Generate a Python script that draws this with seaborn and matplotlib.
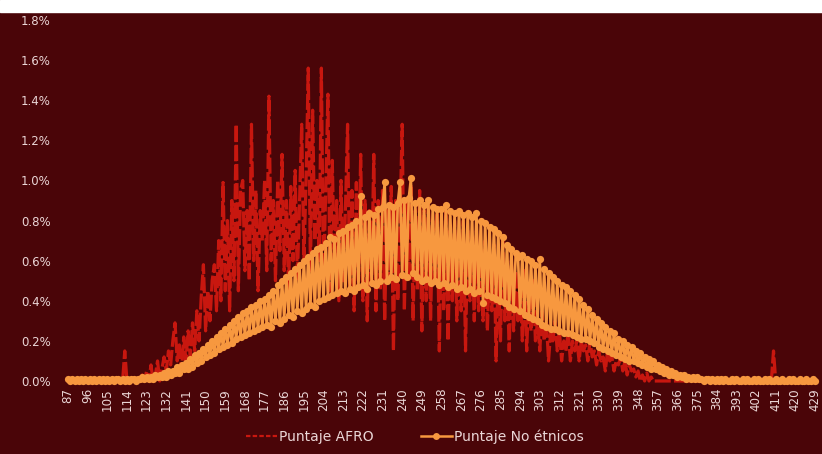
import matplotlib
matplotlib.use("Agg")
import matplotlib.pyplot as plt
from matplotlib.patches import Rectangle
from matplotlib.lines import Line2D
from matplotlib.ticker import FuncFormatter
import seaborn as sns
import pandas as pd

# Scores 87..429 (one category per integer score)
puntajes = list(range(87, 430))
tick_labels = list(range(87, 430, 9))

# Percent of students per score, Puntaje AFRO (values in %)
afro_pct = [
    0, 0, 0, 0, 0, 0, 0, 0, 0,                                   # 87-95
    0, 0, 0, 0, 0, 0, 0, 0, 0,                                   # 96-104
    0, 0, 0, 0, 0, 0, 0, 0, 0.15,                                # 105-113
    0, 0, 0, 0, 0, 0, 0, 0.03, 0,                                # 114-122
    0.05, 0, 0.08, 0, 0.03, 0.1, 0, 0.06, 0.12,                  # 123-131
    0.05, 0.15, 0.08, 0.2, 0.29, 0.1, 0.18, 0.05, 0.22,          # 132-140
    0.1, 0.25, 0.12, 0.29, 0.15, 0.35, 0.2, 0.42, 0.58,          # 141-149
    0.25, 0.45, 0.3, 0.5, 0.58, 0.35, 0.7, 0.4, 0.99,            # 150-158
    0.45, 0.8, 0.35, 0.9, 0.5, 1.28, 0.45, 0.95, 1.0,            # 159-167
    0.55, 0.85, 0.5, 1.28, 0.6, 0.95, 0.45, 0.85, 0.7,           # 168-176
    1.0, 0.55, 1.42, 0.6, 0.9, 0.5, 1.0, 0.65, 1.13,             # 177-185
    0.55, 0.9, 0.45, 0.97, 0.6, 1.05, 0.5, 0.9, 1.28,            # 186-194
    0.6, 1.0, 1.56, 0.55, 1.35, 0.7, 1.0, 0.6, 1.56,             # 195-203
    0.5, 0.95, 1.43, 0.45, 1.1, 0.55, 0.9, 0.4, 1.0,             # 204-212
    0.5, 0.85, 1.28, 0.45, 0.95, 0.35, 0.99, 0.5, 1.13,          # 213-221
    0.4, 0.9, 0.3, 0.85, 0.5, 1.13, 0.35, 0.9, 0.45,             # 222-230
    0.95, 0.3, 0.85, 0.5, 0.97, 0.15, 0.9, 0.4, 0.8,             # 231-239
    1.28, 0.35, 0.9, 0.5, 0.98, 0.3, 0.85, 0.45, 0.95,           # 240-248
    0.25, 0.85, 0.4, 0.9, 0.3, 0.8, 0.5, 0.85, 0.15,             # 249-257
    0.8, 0.35, 0.85, 0.2, 0.75, 0.4, 0.8, 0.3, 0.7,              # 258-266
    0.35, 0.8, 0.15, 0.75, 0.4, 0.7, 0.3, 0.75, 0.35,            # 267-275
    0.65, 0.3, 0.7, 0.25, 0.6, 0.35, 0.68, 0.1, 0.55,            # 276-284
    0.2, 0.7, 0.3, 0.55, 0.15, 0.6, 0.25, 0.55, 0.3,             # 285-293
    0.5, 0.2, 0.55, 0.15, 0.45, 0.25, 0.5, 0.2, 0.3,             # 294-302
    0.15, 0.35, 0.2, 0.3, 0.1, 0.25, 0.2, 0.3, 0.15,             # 303-311
    0.25, 0.1, 0.2, 0.15, 0.25, 0.1, 0.2, 0.15, 0.2,             # 312-320
    0.1, 0.2, 0.15, 0.18, 0.1, 0.2, 0.12, 0.15, 0.08,            # 321-329
    0.15, 0.1, 0.12, 0.05, 0.15, 0.1, 0.12, 0.05, 0.1,           # 330-338
    0.08, 0.12, 0.05, 0.1, 0.03, 0.08, 0.05, 0.06, 0.02,         # 339-347
    0.05, 0, 0.03, 0, 0.04, 0, 0.02, 0, 0,                       # 348-356
    0, 0, 0, 0, 0, 0, 0, 0, 0,                                   # 357-365
    0, 0, 0, 0, 0, 0, 0, 0, 0,                                   # 366-374
    0, 0, 0, 0, 0, 0, 0, 0, 0,                                   # 375-383
    0, 0, 0, 0, 0, 0, 0, 0, 0,                                   # 384-392
    0, 0, 0, 0, 0, 0, 0, 0, 0,                                   # 393-401
    0, 0, 0, 0, 0, 0, 0, 0, 0.15,                                # 402-410
    0, 0, 0, 0, 0, 0, 0, 0, 0,                                   # 411-419
    0, 0, 0, 0, 0, 0, 0, 0, 0,                                   # 420-428
    0,                                                           # 429
]

# Percent of students per score, Puntaje No étnicos (values in %)
no_etnicos_pct = [
    0.01, 0.0, 0.01, 0.0, 0.01, 0.0, 0.01, 0.0, 0.01,            # 87-95
    0.0, 0.01, 0.0, 0.01, 0.0, 0.01, 0.0, 0.01, 0.0,             # 96-104
    0.01, 0.0, 0.01, 0.0, 0.01, 0.01, 0.0, 0.01, 0.0,            # 105-113
    0.01, 0.0, 0.01, 0.01, 0.0, 0.01, 0.01, 0.02, 0.01,          # 114-122
    0.02, 0.01, 0.02, 0.01, 0.03, 0.02, 0.03, 0.02, 0.04,        # 123-131
    0.02, 0.05, 0.03, 0.05, 0.04, 0.07, 0.04, 0.08, 0.06,        # 132-140
    0.09, 0.06, 0.11, 0.07, 0.13, 0.09, 0.14, 0.1, 0.16,         # 141-149
    0.12, 0.18, 0.13, 0.2, 0.14, 0.22, 0.16, 0.24, 0.17,         # 150-158
    0.26, 0.18, 0.28, 0.19, 0.3, 0.21, 0.32, 0.22, 0.34,         # 159-167
    0.23, 0.35, 0.24, 0.37, 0.25, 0.38, 0.26, 0.4, 0.27,         # 168-176
    0.41, 0.28, 0.43, 0.27, 0.45, 0.3, 0.48, 0.29, 0.5,          # 177-185
    0.31, 0.52, 0.33, 0.54, 0.32, 0.56, 0.35, 0.58, 0.34,        # 186-194
    0.6, 0.36, 0.62, 0.38, 0.64, 0.37, 0.66, 0.4, 0.67,          # 195-203
    0.41, 0.69, 0.42, 0.72, 0.43, 0.71, 0.44, 0.74, 0.45,        # 204-212
    0.75, 0.44, 0.77, 0.46, 0.78, 0.45, 0.8, 0.47, 0.92,         # 213-221
    0.48, 0.82, 0.46, 0.84, 0.49, 0.83, 0.48, 0.86, 0.5,         # 222-230
    0.87, 0.99, 0.5, 0.88, 0.52, 0.87, 0.51, 0.89, 0.99,         # 231-239
    0.53, 0.9, 0.52, 0.91, 1.01, 0.54, 0.89, 0.52, 0.9,          # 240-248
    0.5, 0.88, 0.51, 0.9, 0.49, 0.87, 0.5, 0.86, 0.48,           # 249-257
    0.86, 0.49, 0.88, 0.47, 0.85, 0.48, 0.84, 0.46, 0.85,        # 258-266
    0.47, 0.83, 0.45, 0.84, 0.46, 0.82, 0.44, 0.84, 0.45,        # 267-275
    0.8, 0.39, 0.79, 0.43, 0.77, 0.42, 0.76, 0.41, 0.74,         # 276-284
    0.4, 0.72, 0.39, 0.68, 0.37, 0.66, 0.36, 0.64, 0.62,         # 285-293
    0.35, 0.63, 0.33, 0.61, 0.32, 0.6, 0.31, 0.58, 0.3,          # 294-302
    0.61, 0.28, 0.56, 0.27, 0.54, 0.26, 0.52, 0.26, 0.5,         # 303-311
    0.25, 0.48, 0.24, 0.47, 0.24, 0.45, 0.23, 0.43, 0.22,        # 312-320
    0.41, 0.21, 0.38, 0.21, 0.36, 0.2, 0.33, 0.19, 0.31,         # 321-329
    0.17, 0.29, 0.16, 0.27, 0.15, 0.25, 0.14, 0.24, 0.13,        # 330-338
    0.21, 0.12, 0.2, 0.11, 0.18, 0.1, 0.17, 0.1, 0.15,           # 339-347
    0.09, 0.14, 0.08, 0.12, 0.07, 0.11, 0.06, 0.1, 0.06,         # 348-356
    0.08, 0.05, 0.07, 0.04, 0.06, 0.03, 0.05, 0.03, 0.04,        # 357-365
    0.02, 0.03, 0.02, 0.03, 0.01, 0.02, 0.01, 0.02, 0.01,        # 366-374
    0.02, 0.01, 0.01, 0.0, 0.01, 0.01, 0.0, 0.01, 0.0,           # 375-383
    0.01, 0.0, 0.01, 0.0, 0.01, 0.0, 0.0, 0.01, 0.0,             # 384-392
    0.01, 0.0, 0.0, 0.01, 0.0, 0.01, 0.0, 0.0, 0.01,             # 393-401
    0.0, 0.01, 0.0, 0.0, 0.01, 0.0, 0.01, 0.0, 0.0,              # 402-410
    0.01, 0.0, 0.0, 0.01, 0.0, 0.0, 0.01, 0.0, 0.01,             # 411-419
    0.0, 0.0, 0.01, 0.0, 0.0, 0.01, 0.0, 0.0, 0.01,              # 420-428
    0.0,                                                         # 429
]

series_names = ["Puntaje AFRO", "Puntaje No étnicos"]

BG = "#4a0508"
RED = "#c8170f"
ORANGE = "#f7983f"
TXT = "#ead6d6"

plt.rcParams["font.family"] = ["DejaVu Sans"]

fig = plt.figure(figsize=(8.22, 4.54), dpi=100)
fig.patch.set_facecolor(BG)
ax = fig.add_axes([65.8 / 822, 73 / 454, 751.4 / 822, 361 / 454])
ax.set_facecolor(BG)

df_afro = pd.DataFrame({"puntaje": puntajes, "pct": afro_pct})
df_no = pd.DataFrame({"puntaje": puntajes, "pct": no_etnicos_pct})

sns.lineplot(data=df_afro, x="puntaje", y="pct", ax=ax, color=RED,
             linewidth=2.3, linestyle=(0, (5, 1)), estimator=None,
             sort=True, zorder=2, clip_on=False)
sns.lineplot(data=df_no, x="puntaje", y="pct", ax=ax, color=ORANGE,
             linewidth=1.9, marker="o", markersize=5.2, markeredgewidth=0,
             estimator=None, sort=True, zorder=3, clip_on=False)

ax.set_xlim(86, 430)
ax.set_ylim(0, 1.8)
ax.set_xticks(tick_labels)
ax.set_xticklabels([str(t) for t in tick_labels], rotation=90,
                   fontsize=8.6, color=TXT)
ax.set_yticks([0, 0.2, 0.4, 0.6, 0.8, 1.0, 1.2, 1.4, 1.6, 1.8])
ax.yaxis.set_major_formatter(FuncFormatter(lambda v, p: f"{v:.1f}%"))
ax.tick_params(axis="y", labelsize=8.5, labelcolor=TXT, length=0, pad=11)
ax.tick_params(axis="x", length=0, pad=5)
ax.set_xlabel("")
ax.set_ylabel("")
ax.grid(False)
for s in ax.spines.values():
    s.set_visible(False)

handles = [
    Line2D([], [], color=RED, linewidth=1.6, linestyle=(0, (2, 1))),
    Line2D([], [], color=ORANGE, linewidth=1.8, marker="o", markersize=5,
           markeredgewidth=0),
]
leg = fig.legend(handles, series_names, loc="center", ncol=2,
                 bbox_to_anchor=(0.505, 1 - 437 / 454), frameon=False,
                 fontsize=10, labelcolor=TXT, handlelength=2.2,
                 columnspacing=3.4, handletextpad=0.2)

fig.add_artist(Rectangle((0, 1 - 12 / 454), 1, 12 / 454,
                         transform=fig.transFigure, color="white", zorder=10))

fig.savefig("out.png", dpi=100, facecolor=BG)
